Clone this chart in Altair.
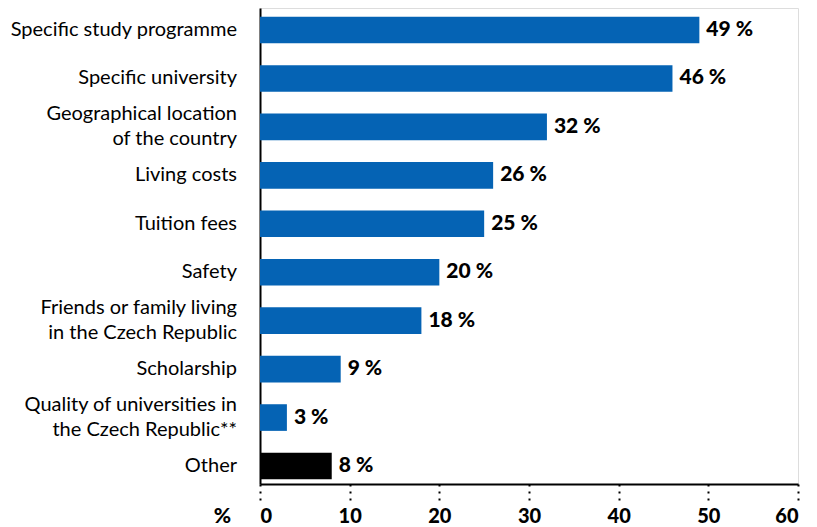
import altair as alt
import pandas as pd

categories = [
    "Specific study programme",
    "Specific university",
    "Geographical location|of the country",
    "Living costs",
    "Tuition fees",
    "Safety",
    "Friends or family living|in the Czech Republic",
    "Scholarship",
    "Quality of universities in|the Czech Republic**",
    "Other",
]
values = [49, 46, 32, 26, 25, 20, 18, 9, 3, 8]
colors = ["#0563B4"] * 9 + ["#000000"]

line1 = [c.split("|")[0] for c in categories]
line2 = [c.split("|")[1] if "|" in c else "" for c in categories]

df = pd.DataFrame({"cat": categories, "value": values, "color": colors,
                   "line1": line1, "line2": line2})

FONT = "Lato"
LABEL_SIZE = 20

y_scale = alt.Scale(paddingInner=0.45, paddingOuter=0.138, align=0.65)

y_enc = alt.Y(
    "cat:N",
    sort=categories,
    title=None,
    scale=y_scale,
    axis=alt.Axis(
        labels=False,
        ticks=False,
        domain=True,
        domainColor="#000000",
        domainWidth=2,
        grid=False,
    ),
)

x_enc = alt.X(
    "value:Q",
    scale=alt.Scale(domain=[0, 60], nice=False),
    axis=alt.Axis(
        values=[0, 10, 20, 30, 40, 50, 60],
        title="%",
        titleFont=FONT,
        titleFontSize=21,
        titleFontWeight=900,
        titleColor="#000000",
        titleAngle=0,
        titleX=-38,
        titleY=32,
        titleAlign="center",
        titleBaseline="middle",
        labelFont=FONT,
        labelFontSize=20,
        labelFontWeight=900,
        labelColor="#000000",
        labelBaseline="middle",
        labelPadding=16,
        tickSize=16,
        tickWidth=2,
        tickColor="#000000",
        tickDash=[2, 5],
        domainColor="#000000",
        domainWidth=2,
        grid=False,
    ),
)

bars = alt.Chart(df).mark_bar().encode(
    y=y_enc,
    x=x_enc,
    color=alt.Color("color:N", scale=None),
)

values_text = alt.Chart(df).transform_calculate(
    lab="datum.value + ' %'"
).mark_text(
    align="left",
    baseline="middle",
    dx=7,
    font=FONT,
    fontSize=21,
    fontWeight=900,
    color="#000000",
).encode(
    y=alt.Y("cat:N", sort=categories),
    x=alt.X("value:Q"),
    text="lab:N",
)

def cat_text(field, dy, single):
    base = alt.Chart(df)
    if single:
        base = base.transform_filter("datum.line2 == ''")
    else:
        base = base.transform_filter("datum.line2 != ''")
    return base.mark_text(
        align="right",
        baseline="middle",
        dy=dy,
        font=FONT,
        fontSize=LABEL_SIZE,
        color="#000000",
    ).encode(
        y=alt.Y("cat:N", sort=categories),
        x=alt.value(-23),
        text=f"{field}:N",
    )

single_lbl = cat_text("line1", 0, True)
top_lbl = cat_text("line1", -12.5, False)
bot_lbl = cat_text("line2", 12.5, False)

chart = (
    alt.layer(bars, values_text, single_lbl, top_lbl, bot_lbl)
    .properties(
        width=538,
        height=476,
        autosize=alt.AutoSizeParams(type="none"),
        padding={"left": 252, "top": 0, "right": 11, "bottom": 43},
    )
    .configure_view(stroke=None)
    .configure(background="#ffffff")
)

chart.save("out.html", embed_options={"renderer": "svg", "actions": False})
